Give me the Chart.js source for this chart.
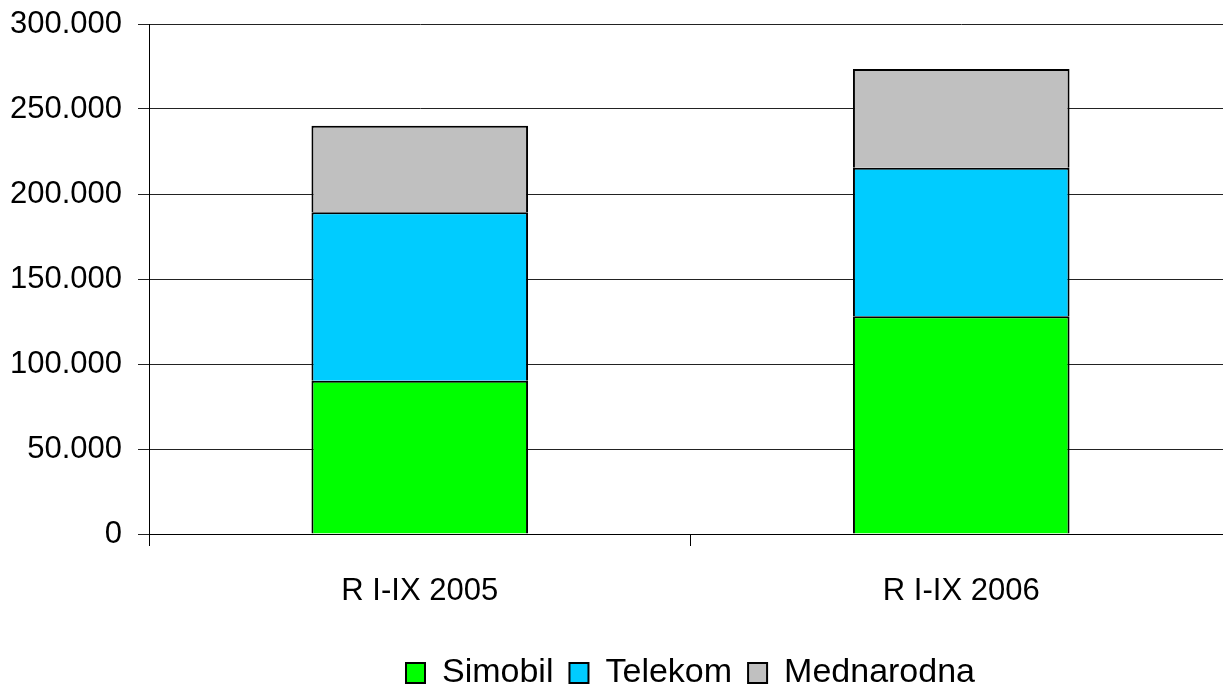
<!DOCTYPE html>
<html>
<head>
<meta charset="utf-8">
<script src="https://cdn.jsdelivr.net/npm/chart.js@4/dist/chart.umd.min.js"></script>
<style>
  html, body { margin: 0; padding: 0; background: #fff; overflow: hidden; }
  #wrap { width: 1232px; height: 700px; }
</style>
</head>
<body>
<div id="wrap"><canvas id="grafico" width="1232" height="700"></canvas></div>
<script>
// Datos del gráfico
const categorias = ['R I-IX 2005', 'R I-IX 2006'];
const simobil = [90200, 128100];
const telekom = [99000, 87400];
const mednarodna = [51000, 58000];
const ticksY = [0, 50000, 100000, 150000, 200000, 250000, 300000];

// Formato con punto como separador de miles
function formato(v) {
    return String(v).replace(/\B(?=(\d{3})+(?!\d))/g, '.');
}

const fuente = 'Liberation Sans, Arial, sans-serif';
const ctx = document.getElementById('grafico').getContext('2d');

// Estilo común de las barras
const barra = { borderColor: '#000', borderWidth: 2, borderSkipped: 'start' };

new Chart(ctx, {
    type: 'bar',
    data: {
        labels: categorias,
        datasets: [
            { label: 'Simobil', data: simobil, backgroundColor: '#00ff00', ...barra },
            { label: 'Telekom', data: telekom, backgroundColor: '#00ccff', ...barra },
            { label: 'Mednarodna', data: mednarodna, backgroundColor: '#c0c0c0', ...barra }
        ]
    },
    options: {
        responsive: false,
        animation: false,
        layout: { padding: { top: 24, left: 0, right: 0, bottom: 0 } },
        datasets: { bar: { categoryPercentage: 1, barPercentage: 0.4 } },
        scales: {
            x: {
                stacked: true,
                grid: { offset: true, drawOnChartArea: false, drawTicks: true, tickLength: 12, color: '#000' },
                border: { display: true, color: '#000', width: 1 },
                ticks: { color: '#000', font: { family: fuente, size: 31 }, padding: 27 },
                afterFit: scale => { scale.height = 106; }
            },
            y: {
                stacked: true,
                min: 0,
                max: 300000,
                afterBuildTicks: scale => { scale.ticks = ticksY.map(v => ({ value: v })); },
                grid: { color: '#222', tickLength: 11 },
                border: { display: true, color: '#000', width: 1 },
                ticks: { color: '#000', font: { family: fuente, size: 31 }, padding: 16, callback: v => formato(v) },
                afterFit: scale => {
                    scale.width = 149;
                    scale.paddingTop = 0;
                    scale.paddingBottom = 0;
                }
            }
        },
        plugins: {
            legend: {
                position: 'bottom',
                fullSize: false,
                labels: { color: '#000', font: { family: fuente, size: 34 }, boxWidth: 19, boxHeight: 20, padding: 16 }
            },
            tooltip: { enabled: false }
        }
    }
});
</script>
</body>
</html>
